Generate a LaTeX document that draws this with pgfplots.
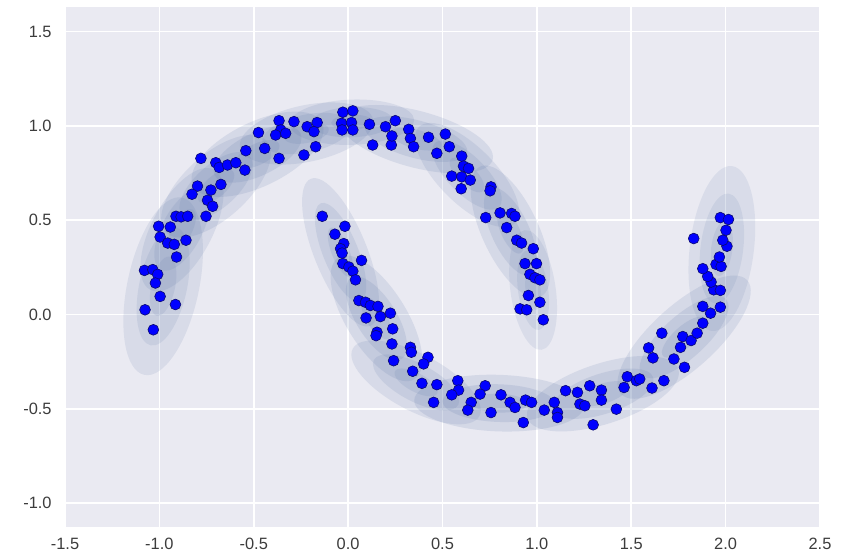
\documentclass[border=0pt]{standalone}
\usepackage{fontspec}
\setmainfont{Liberation Sans}
\usepackage{pgfplots}
\usepackage{pgfplotstable}
\pgfplotsset{compat=1.18}
\definecolor{bgc}{RGB}{234,234,242}
\definecolor{ellc}{RGB}{88,114,165}
\definecolor{ptc}{RGB}{0,0,255}
\definecolor{pte}{RGB}{10,10,110}
\definecolor{tickc}{RGB}{60,60,60}
% GMM component: cx, cy, 3-sigma semi-axes a, b, angle, alpha
\newcommand{\gmm}[6]{%
  \fill[ellc, opacity=#6, rotate around={#5:(axis cs:#1,#2)}] (axis cs:#1,#2) ellipse [x radius={#3/3}, y radius={#4/3}];
  \fill[ellc, opacity=#6, rotate around={#5:(axis cs:#1,#2)}] (axis cs:#1,#2) ellipse [x radius={2*#3/3}, y radius={2*#4/3}];
  \fill[ellc, opacity=#6, rotate around={#5:(axis cs:#1,#2)}] (axis cs:#1,#2) ellipse [x radius={#3}, y radius={#4}];
}
\pgfplotstableread{
x y
-0.366 1.028
-0.287 1.023
-0.357 0.979
-0.384 0.952
-0.331 0.961
-0.217 0.996
-0.164 1.018
-0.181 0.970
-0.172 0.890
-0.234 0.846
-0.475 0.965
-0.442 0.881
-0.366 0.828
-0.542 0.869
-0.780 0.828
-0.701 0.805
-0.683 0.780
-0.639 0.793
-0.595 0.805
-0.547 0.766
-0.798 0.681
-0.827 0.638
-0.727 0.660
-0.674 0.690
-0.745 0.606
-0.718 0.574
-0.753 0.521
-0.912 0.521
-0.885 0.518
-0.850 0.521
-1.004 0.468
-0.942 0.464
-0.996 0.411
-0.956 0.379
-0.921 0.372
-0.859 0.394
-0.909 0.305
-1.079 0.234
-1.035 0.238
-1.009 0.213
-1.021 0.167
-0.996 0.096
-0.915 0.053
-1.076 0.025
-1.032 -0.081
-0.028 1.073
0.025 1.080
-0.035 1.014
0.018 1.018
-0.032 0.979
0.025 0.979
0.113 1.009
0.198 0.996
0.250 1.028
0.130 0.899
0.229 0.899
0.232 0.947
0.321 0.982
0.330 0.934
0.347 0.890
0.426 0.940
0.515 0.957
0.536 0.890
0.470 0.855
0.602 0.840
0.611 0.787
0.638 0.775
0.549 0.734
0.602 0.730
0.647 0.713
0.599 0.667
0.757 0.677
0.752 0.656
0.729 0.514
0.805 0.539
0.866 0.536
0.884 0.521
0.840 0.461
0.893 0.394
0.919 0.379
0.981 0.349
0.937 0.270
0.998 0.270
0.963 0.213
0.990 0.195
1.016 0.184
0.955 0.101
1.016 0.065
0.911 0.030
0.946 0.025
1.034 -0.028
}\uppermoon
\pgfplotstableread{
x y
-0.137 0.521
-0.017 0.468
-0.070 0.426
-0.023 0.376
-0.040 0.349
-0.032 0.326
0.071 0.287
-0.028 0.270
0.004 0.252
0.025 0.230
0.039 0.184
0.057 0.074
0.092 0.065
0.118 0.048
0.158 0.043
0.171 -0.011
0.224 0.007
0.095 -0.018
0.153 -0.094
0.148 -0.112
0.236 -0.076
0.232 -0.156
0.330 -0.174
0.335 -0.200
0.241 -0.245
0.423 -0.227
0.400 -0.262
0.342 -0.301
0.391 -0.365
0.470 -0.372
0.453 -0.466
0.581 -0.351
0.585 -0.401
0.549 -0.426
0.652 -0.466
0.634 -0.507
0.726 -0.378
0.699 -0.422
0.757 -0.520
0.810 -0.426
0.858 -0.466
0.884 -0.493
0.928 -0.573
0.940 -0.454
0.972 -0.466
1.039 -0.507
1.092 -0.466
1.109 -0.520
1.109 -0.546
1.152 -0.404
1.215 -0.413
1.280 -0.378
1.228 -0.475
1.254 -0.484
1.298 -0.585
1.342 -0.401
1.342 -0.454
1.421 -0.502
1.462 -0.387
1.479 -0.330
1.527 -0.351
1.545 -0.342
1.610 -0.390
1.673 -0.351
1.592 -0.177
1.615 -0.230
1.662 -0.099
1.726 -0.236
1.782 -0.280
1.761 -0.174
1.773 -0.117
1.817 -0.138
1.849 -0.099
1.879 -0.046
1.920 0.007
1.879 0.043
1.972 0.039
1.937 0.131
1.972 0.128
1.923 0.172
1.905 0.202
1.879 0.243
1.949 0.266
1.976 0.255
1.967 0.305
2.007 0.362
1.985 0.394
1.831 0.403
2.002 0.447
1.972 0.514
2.015 0.504
}\lowermoon
\begin{document}
\begin{tikzpicture}
\useasboundingbox (-32.5pt,-12.5pt) rectangle (393pt,263.5pt);
\begin{axis}[
  scale only axis, width=377.5pt, height=260pt,
  xmin=-1.5, xmax=2.5, ymin=-1.127, ymax=1.631,
  axis background/.style={fill=bgc},
  axis line style={draw=none},
  grid=major, major grid style={white, line width=0.8pt},
  major tick length=0pt,
  xtick={-1.5,-1,-0.5,0,0.5,1,1.5,2,2.5},
  xticklabels={-1.5,-1.0,-0.5,0.0,0.5,1.0,1.5,2.0,2.5},
  ytick={-1,-0.5,0,0.5,1,1.5},
  yticklabels={-1.0,-0.5,0.0,0.5,1.0,1.5},
  tick label style={font=\fontsize{8.2}{9}\selectfont, text=tickc},
  xticklabel style={inner sep=0pt, anchor=north, yshift=-5.5pt},
  yticklabel style={inner sep=0pt, anchor=east, xshift=-6.5pt},
]
\gmm{-0.98}{0.15}{0.48}{0.19}{78}{0.12}
\gmm{-0.88}{0.45}{0.36}{0.16}{62}{0.13}
\gmm{-0.70}{0.68}{0.36}{0.17}{42}{0.13}
\gmm{-0.48}{0.85}{0.38}{0.17}{26}{0.14}
\gmm{-0.22}{0.96}{0.36}{0.15}{12}{0.13}
\gmm{0.02}{1.02}{0.33}{0.12}{2}{0.13}
\gmm{0.36}{0.93}{0.42}{0.15}{-15}{0.14}
\gmm{0.63}{0.74}{0.36}{0.15}{-45}{0.13}
\gmm{0.86}{0.44}{0.38}{0.15}{-65}{0.14}
\gmm{0.98}{0.13}{0.32}{0.12}{-82}{0.11}
\gmm{-0.04}{0.33}{0.42}{0.14}{-68}{0.13}
\gmm{0.15}{-0.02}{0.38}{0.16}{-58}{0.14}
\gmm{0.36}{-0.36}{0.38}{0.15}{-28}{0.13}
\gmm{0.80}{-0.47}{0.45}{0.15}{-2}{0.15}
\gmm{1.35}{-0.42}{0.42}{0.16}{18}{0.14}
\gmm{1.78}{-0.12}{0.45}{0.17}{42}{0.14}
\gmm{1.98}{0.35}{0.44}{0.17}{83}{0.11}
\addplot[only marks, mark=*, mark size=2.7pt, mark options={fill=ptc, draw=pte, line width=0.3pt}] table {\uppermoon};
\addplot[only marks, mark=*, mark size=2.7pt, mark options={fill=ptc, draw=pte, line width=0.3pt}] table {\lowermoon};
\end{axis}
\end{tikzpicture}
\end{document}
